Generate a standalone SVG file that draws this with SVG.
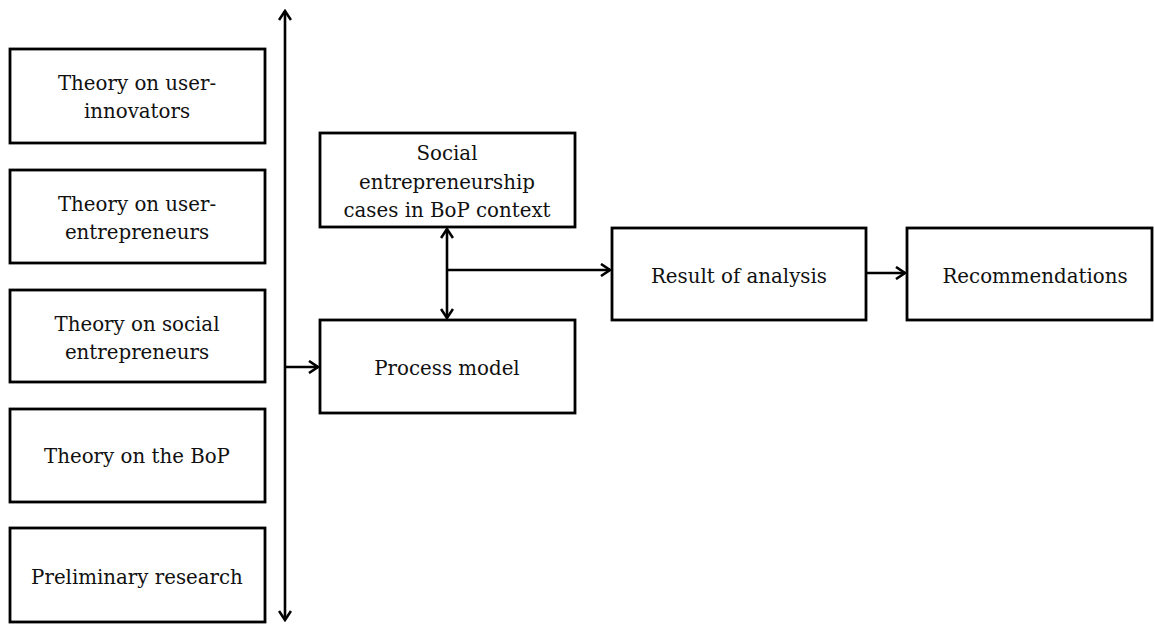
<svg xmlns="http://www.w3.org/2000/svg" width="1154" height="628" viewBox="0 0 1154 628">
<style>
.box{fill:#fff;stroke:#000;stroke-width:2.8}
.t{font-family:"DejaVu Serif","Liberation Serif",serif;font-size:19.8px;fill:#111;text-anchor:middle}
.c{fill:none;stroke:#000;stroke-width:2.6}
</style>
<defs>
<marker id="ah" viewBox="0 0 14 14" refX="12" refY="7" markerWidth="14" markerHeight="14" markerUnits="userSpaceOnUse" orient="auto-start-reverse">
<path d="M3,1 L12,7 L3,13" fill="none" stroke="#000" stroke-width="2.6"/>
</marker>
</defs>
<rect width="1154" height="628" fill="#fff"/>
<g id="connectors">
<line class="c" x1="285" y1="620" x2="285" y2="11" marker-start="url(#ah)" marker-end="url(#ah)"/>
<line class="c" x1="285" y1="367" x2="318" y2="367" marker-end="url(#ah)"/>
<line class="c" x1="447" y1="229" x2="447" y2="318" marker-start="url(#ah)" marker-end="url(#ah)"/>
<line class="c" x1="447" y1="270" x2="610" y2="270" marker-end="url(#ah)"/>
<line class="c" x1="866" y1="273" x2="905" y2="273" marker-end="url(#ah)"/>
</g>
<g id="n1"><rect class="box" x="10" y="49" width="255" height="94"/><text class="t" x="137" y="90">Theory on user-</text><text class="t" x="137" y="118">innovators</text></g>
<g id="n2"><rect class="box" x="10" y="170" width="255" height="93"/><text class="t" x="137" y="211">Theory on user-</text><text class="t" x="137" y="239">entrepreneurs</text></g>
<g id="n3"><rect class="box" x="10" y="290" width="255" height="92"/><text class="t" x="137" y="331">Theory on social</text><text class="t" x="137" y="359">entrepreneurs</text></g>
<g id="n4"><rect class="box" x="10" y="409" width="255" height="93"/><text class="t" x="137" y="463">Theory on the BoP</text></g>
<g id="n5"><rect class="box" x="10" y="528" width="255" height="94"/><text class="t" x="137" y="584">Preliminary research</text></g>
<g id="n6"><rect class="box" x="320" y="133" width="255" height="94"/><text class="t" x="447" y="160">Social</text><text class="t" x="447" y="189">entrepreneurship</text><text class="t" x="447" y="217">cases in BoP context</text></g>
<g id="n7"><rect class="box" x="320" y="320" width="255" height="93"/><text class="t" x="447" y="375">Process model</text></g>
<g id="n8"><rect class="box" x="612" y="228" width="254" height="92"/><text class="t" x="739" y="283">Result of analysis</text></g>
<g id="n9"><rect class="box" x="907" y="228" width="245" height="92"/><text class="t" x="1035" y="283">Recommendations</text></g>
</svg>
